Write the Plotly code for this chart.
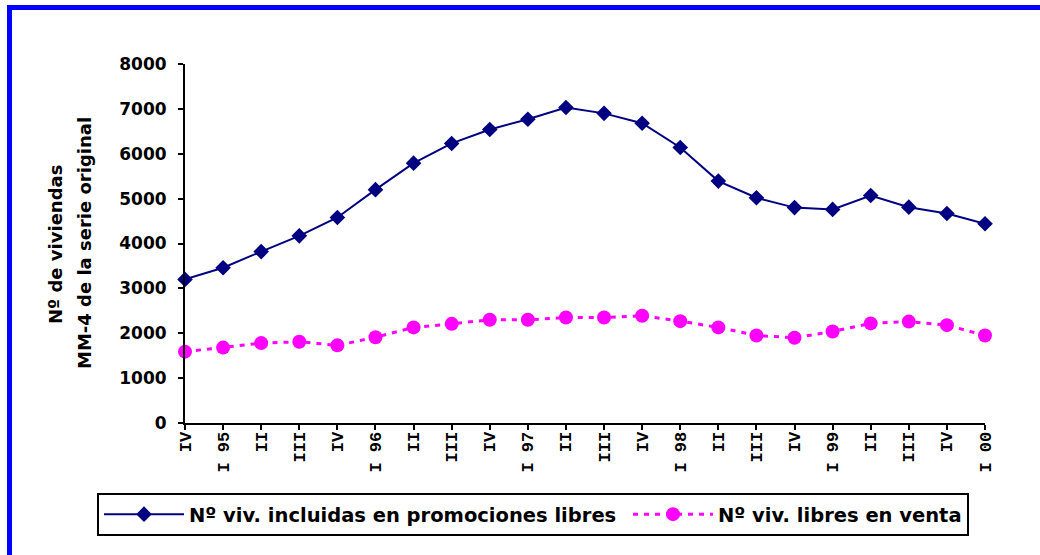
import plotly.graph_objects as go

# Quarter labels (Roman numeral quarter, year shown on first quarter)
quarters = ["IV", "I 95", "II", "III", "IV", "I 96", "II", "III", "IV", "I 97",
            "II", "III", "IV", "I 98", "II", "III", "IV", "I 99", "II", "III",
            "IV", "I 00"]

# Number of dwellings, 4-quarter moving average of the original series
viv_promociones = [3200, 3460, 3820, 4170, 4580, 5200, 5790, 6230, 6540, 6770,
                   7030, 6900, 6680, 6140, 5390, 5020, 4800, 4760, 5070, 4810,
                   4670, 4440]
viv_venta = [1590, 1680, 1780, 1810, 1730, 1910, 2130, 2210, 2300, 2300,
             2350, 2350, 2390, 2270, 2130, 1950, 1900, 2040, 2220, 2260,
             2180, 1950]

y_ticks = [0, 1000, 2000, 3000, 4000, 5000, 6000, 7000, 8000]

W, H = 1040, 555
ML, MR, MT, MB = 185, 55, 64, 132
PW, PH = W - ML - MR, H - MT - MB


def px_x(p):
    return (p - ML) / PW


def px_y(p):
    return (H - MB - p) / PH


pos = list(range(len(quarters)))

fig = go.Figure()
fig.add_trace(go.Scatter(
    x=pos, y=viv_promociones, mode="lines+markers",
    # trailing no-break space widens the gap to the next legend entry
    name="Nº viv. incluidas en promociones libres\u00a0",
    line=dict(color="#000080", width=2),
    marker=dict(symbol="diamond", size=12, color="#000080"),
    cliponaxis=False,
))
fig.add_trace(go.Scatter(
    x=pos, y=viv_venta, mode="lines+markers",
    name="Nº viv. libres en venta",
    line=dict(color="#FF00FF", width=3, dash="5px,6px"),
    marker=dict(symbol="circle", size=14, color="#FF00FF"),
    cliponaxis=False,
))

fig.update_xaxes(
    range=[0, len(quarters) - 1],
    tickmode="array", tickvals=pos, ticktext=quarters,
    tickangle=-90,
    tickfont=dict(family="Liberation Mono", size=17, color="black", weight="bold"),
    ticklabelstandoff=-5,
    showline=True, linecolor="black", linewidth=2,
    ticks="outside", ticklen=5, tickcolor="black", tickwidth=2,
    showgrid=False, zeroline=False, fixedrange=True,
)
fig.update_yaxes(
    range=[0, 8000],
    tickmode="array", tickvals=y_ticks,
    tickfont=dict(family="DejaVu Sans", size=17, color="black", weight="bold"),
    showline=True, linecolor="black", linewidth=2,
    ticks="outside", ticklen=5, tickcolor="black", tickwidth=2,
    ticklabelstandoff=8,
    showgrid=False, zeroline=False, fixedrange=True,
)

# Axis title on two rotated lines
fig.add_annotation(
    x=px_x(56), y=px_y(245), xref="paper", yref="paper",
    text="Nº de viviendas", textangle=-90, showarrow=False,
    font=dict(family="DejaVu Sans", size=18, color="black", weight="bold"),
    xanchor="center", yanchor="middle",
)
fig.add_annotation(
    x=px_x(84), y=px_y(243), xref="paper", yref="paper",
    text="MM-4 de la serie original", textangle=-90, showarrow=False,
    font=dict(family="DejaVu Sans", size=18, color="black", weight="bold"),
    xanchor="center", yanchor="middle",
)

# Blue frame along the top and left edges
fig.add_shape(type="rect", xref="paper", yref="paper",
              x0=px_x(7), x1=px_x(W + 5), y0=px_y(10), y1=px_y(5),
              fillcolor="#0000FF", line=dict(width=0), layer="above")
fig.add_shape(type="rect", xref="paper", yref="paper",
              x0=px_x(7), x1=px_x(12), y0=px_y(H + 5), y1=px_y(5),
              fillcolor="#0000FF", line=dict(width=0), layer="above")

fig.update_layout(
    width=W, height=H,
    margin=dict(l=ML, r=MR, t=MT, b=MB, pad=0, autoexpand=False),
    paper_bgcolor="white", plot_bgcolor="white",
    showlegend=True,
    legend=dict(
        orientation="h", x=px_x(97), y=px_y(493),
        xanchor="left", yanchor="top",
        bordercolor="black", borderwidth=2, bgcolor="white",
        font=dict(family="DejaVu Sans", size=19.5, color="black", weight="bold"),
        itemwidth=80,
    ),
)

fig.write_html("out.html")
